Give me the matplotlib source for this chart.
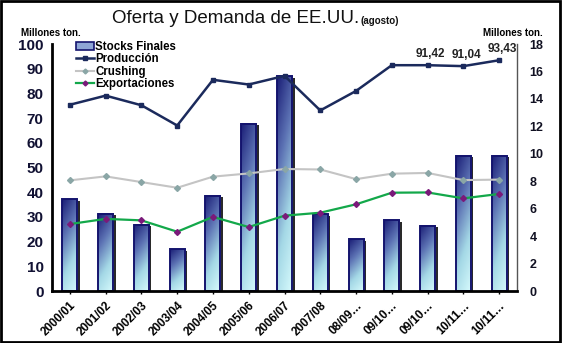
import matplotlib
matplotlib.use("Agg")
import matplotlib.pyplot as plt
import numpy as np
from matplotlib.colors import LinearSegmentedColormap
from matplotlib.patches import Patch, Rectangle
from matplotlib.lines import Line2D
import matplotlib.transforms as mtransforms

plt.rcParams["font.family"] = ["Liberation Sans", "DejaVu Sans"]

# campañas y series (millones de toneladas)
campanas = ["2000/01", "2001/02", "2002/03", "2003/04", "2004/05", "2005/06",
            "2006/07", "2007/08", "08/09…", "09/10…", "09/10…", "10/11…", "10/11…"]
stocks_finales = [6.7, 5.63, 4.83, 3.04, 6.95, 12.2, 15.66, 5.58, 3.77, 5.17, 4.74, 9.84, 9.84]
produccion = [75.4, 79.1, 75.2, 67.0, 85.5, 83.6, 87.1, 73.1, 81.0, 91.42, 91.42, 91.04, 93.43]
crushing = [44.8, 46.4, 44.1, 41.8, 46.3, 47.6, 49.4, 49.2, 45.3, 47.5, 47.8, 44.9, 45.1]
exportaciones = [27.1, 29.2, 28.6, 24.0, 30.0, 25.9, 30.5, 31.7, 35.1, 39.8, 39.9, 37.5, 39.3]
etiquetas_prod = {10: "91,42", 11: "91,04", 12: "93,43"}

fig = plt.figure(figsize=(5.62, 3.43), dpi=100)
fig.patch.set_facecolor("white")
ax = fig.add_axes([0.0925, 0.1516, 0.8275, 0.7201])
ax2 = ax.twinx()

x = np.arange(len(campanas))
bar_w = 0.42

# barras con degradado en el eje derecho
cmap = LinearSegmentedColormap.from_list(
    "stock", ["#d6fafc", "#a4d8e6", "#5c72b4", "#1c2078"])
gy, gx = np.mgrid[0:1:60j, 0:1:12j]
grad = 0.8 * gy + 0.25 * (1 - gx)
shadow = mtransforms.offset_copy(ax2.transData, fig=fig, x=2.5, y=-1.5, units="dots")
for xi, h in zip(x, stocks_finales):
    x0 = xi - bar_w / 2
    ax2.add_patch(Rectangle((x0, 0), bar_w, h, facecolor="#2a2a2a",
                            edgecolor="none", transform=shadow, zorder=1))
    ax2.imshow(grad, extent=(x0, x0 + bar_w, 0, h), origin="lower", cmap=cmap,
               aspect="auto", interpolation="bilinear", zorder=2)
    ax2.add_patch(Rectangle((x0, 0), bar_w, h, facecolor="none",
                            edgecolor="#14146e", linewidth=1.4, zorder=3))

ax2.set_xlim(-0.5, len(campanas) - 0.5)
ax2.set_ylim(0, 18)
ax2.set_yticks(range(0, 19, 2))
ax2.tick_params(axis="y", length=0, pad=9, labelsize=9)
for t in ax2.get_yticklabels():
    t.set_fontweight("bold")
    t.set_color("#111122")

# líneas en el eje izquierdo
ax.set_zorder(ax2.get_zorder() + 1)
ax.patch.set_visible(False)
ax.plot(x, produccion, color="#1b2a5c", lw=1.8, marker="s", ms=3.5, zorder=5)
ax.plot(x, crushing, color="#c4c4c4", lw=1.5, marker="D", ms=3,
        mfc="#8aa6a6", mec="#8aa6a6", zorder=4)
ax.plot(x, exportaciones, color="#13a84a", lw=1.6, marker="D", ms=3,
        mfc="#7a1a7a", mec="#7a1a7a", zorder=4)

for i, txt in etiquetas_prod.items():
    ax.annotate(txt, xy=(x[i], produccion[i]), xycoords="data",
                textcoords="offset points", xytext=(2, 4),
                ha="center", va="bottom", annotation_clip=False,
                fontsize=8.5, fontweight="bold", color="#222222")

ax.set_xlim(-0.5, len(campanas) - 0.5)
ax.set_ylim(0, 100)
ax.set_yticks(range(0, 101, 10))
ax.tick_params(axis="y", length=0, pad=6, labelsize=11)
for t in ax.get_yticklabels():
    t.set_fontweight("bold")
    t.set_color("#111133")
ax.set_xticks(x)
ax.set_xticklabels(campanas, rotation=45, ha="right", rotation_mode="anchor",
                   fontsize=8.5, fontweight="bold")
ax.tick_params(axis="x", length=2, width=1, pad=4)

for a in (ax, ax2):
    a.spines["top"].set_visible(False)
ax.spines["left"].set_linewidth(2)
ax.spines["bottom"].set_linewidth(2)
ax.spines["right"].set_visible(False)
ax2.spines["left"].set_visible(False)
ax2.spines["bottom"].set_visible(False)
ax2.spines["right"].set_color("#555555")
ax2.spines["right"].set_linewidth(1)

handles = [
    Patch(facecolor="#8ea6d6", edgecolor="#14146e", linewidth=1.2),
    Line2D([], [], color="#1b2a5c", lw=1.8, marker="s", ms=3),
    Line2D([], [], color="#c4c4c4", lw=1.5, marker="D", ms=2.5, mfc="#8aa6a6", mec="#8aa6a6"),
    Line2D([], [], color="#13a84a", lw=1.6, marker="D", ms=2.5, mfc="#7a1a7a", mec="#7a1a7a"),
]
labels = ["Stocks Finales", "Producción", "Crushing", "Exportaciones"]
leg = ax.legend(handles, labels, loc="upper left", bbox_to_anchor=(0.035, 1.045),
                frameon=False, handlelength=1.5, handleheight=0.6,
                handletextpad=0.15, labelspacing=0.03, borderpad=0.2,
                prop={"size": 8.3, "weight": "bold"})

fig.text(0.20, 0.945, "Oferta y Demanda de EE.UU.", fontsize=13.5, ha="left",
         va="center", color="#111111")
fig.text(0.642, 0.94, "(agosto)", fontsize=7, ha="left", va="center",
         fontweight="bold", color="#111111")
fig.text(0.09, 0.905, "Millones ton.", fontsize=7, fontweight="bold",
         ha="center", va="center")
fig.text(0.912, 0.905, "Millones ton.", fontsize=7, fontweight="bold",
         ha="center", va="center")

fig.patches.append(Rectangle((0.002, 0.003), 0.995, 0.994, transform=fig.transFigure,
                             fill=False, edgecolor="black", linewidth=2))

fig.savefig("out.png", dpi=100)
